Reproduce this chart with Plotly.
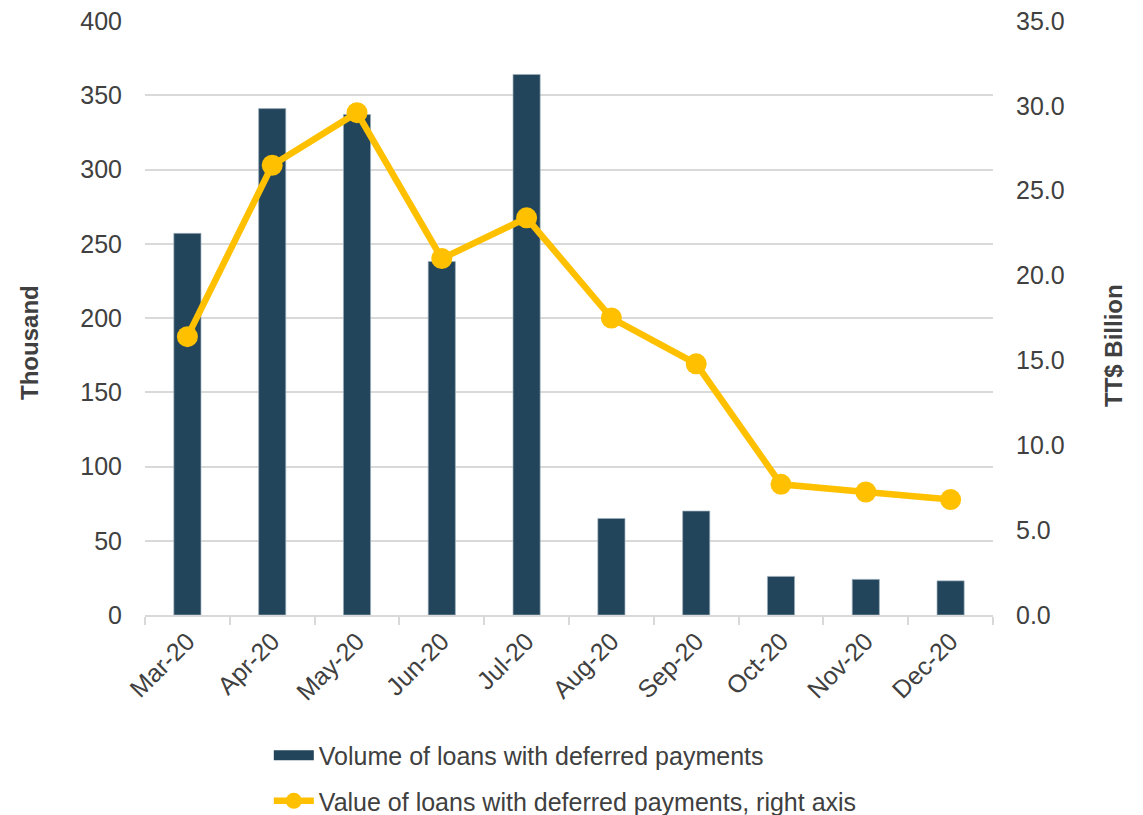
import plotly.graph_objects as go

months = ["Mar-20", "Apr-20", "May-20", "Jun-20", "Jul-20", "Aug-20", "Sep-20", "Oct-20", "Nov-20", "Dec-20"]
volume_thousand = [257, 341, 337, 238, 364, 65, 70, 26, 24, 23]
value_billion = [16.4, 26.5, 29.6, 21.0, 23.4, 17.5, 14.8, 7.7, 7.25, 6.8]

bar_name = "Volume of loans with deferred payments"
line_name = "Value of loans with deferred payments, right axis"
left_title = "Thousand"
right_title = "TT$ Billion"

FONT = "Liberation Sans, Arial, sans-serif"
TXT = "#404040"
BAR_C = "#22455B"
LINE_C = "#FFC000"
FS = 25

fig = go.Figure()
fig.add_trace(go.Bar(
    x=months, y=volume_thousand, name=bar_name, showlegend=False, legendgroup="vol",
    marker=dict(color=BAR_C, line=dict(color="#9fb0bb", width=0.7)),
    width=0.32, yaxis="y",
))
# legend swatch for the bar series (wide rectangle like the original)
fig.add_trace(go.Scatter(
    x=[None], y=[None], name=bar_name, legendgroup="vol", mode="lines",
    line=dict(color=BAR_C, width=14), hoverinfo="skip",
))
fig.add_trace(go.Scatter(
    x=months, y=value_billion, name=line_name, yaxis="y2", legendgroup="val",
    mode="lines+markers",
    line=dict(color=LINE_C, width=6.5),
    marker=dict(color=LINE_C, size=21),
))

fig.update_layout(
    width=1143, height=815,
    margin=dict(l=145, r=150, t=21, b=200, autoexpand=False),
    paper_bgcolor="white", plot_bgcolor="white",
    font=dict(family=FONT, size=FS, color=TXT),
    showlegend=True,
    legend=dict(
        orientation="v", x=0.146, xanchor="left", y=-0.198, yanchor="top",
        font=dict(size=FS, color=TXT), itemwidth=40, tracegroupgap=10,
        traceorder="grouped", bgcolor="rgba(0,0,0,0)",
    ),
    xaxis=dict(
        type="category", range=[-0.5, 9.5], tickangle=-45, showgrid=False,
        showline=True, linecolor="#D9D9D9", linewidth=1.5, automargin=False,
        ticks="outside", tickson="boundaries", ticklen=8, tickcolor="#D9D9D9", tickwidth=1.5,
        tickfont=dict(size=FS, color=TXT),
    ),
    yaxis=dict(
        range=[0, 400], dtick=50, showgrid=True, gridcolor="#D9D9D9", gridwidth=1.5,
        zeroline=False, showline=False, ticks="", tickfont=dict(size=FS, color=TXT),
        ticklabelstandoff=22, automargin=False,
    ),
    yaxis2=dict(
        range=[0, 35], dtick=5, tickformat=".1f", overlaying="y", side="right",
        showgrid=False, zeroline=False, showline=False, ticks="",
        tickfont=dict(size=FS, color=TXT), ticklabelstandoff=22, automargin=False,
    ),
    annotations=[
        dict(text="<b>%s</b>" % left_title, xref="paper", yref="paper",
             x=-0.1356, y=0.458, textangle=-90, showarrow=False,
             font=dict(size=24, color=TXT), xanchor="center", yanchor="middle"),
        dict(text="<b>%s</b>" % right_title, xref="paper", yref="paper",
             x=1.1415, y=0.4545, textangle=-90, showarrow=False,
             font=dict(size=24, color=TXT), xanchor="center", yanchor="middle"),
    ],
)

fig.write_html("out.html")
